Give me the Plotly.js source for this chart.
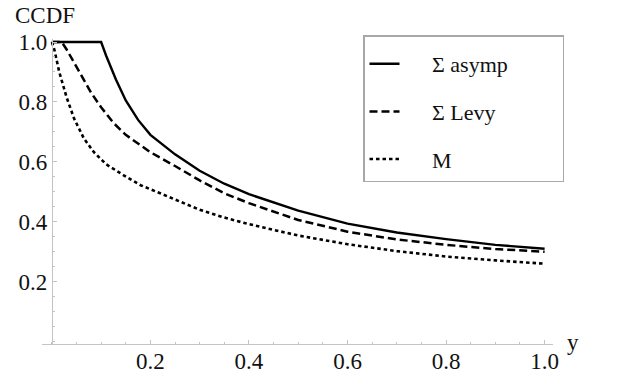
<!DOCTYPE html>
<html>
<head>
<meta charset="utf-8">
<script src="https://cdn.plot.ly/plotly-3.0.1.min.js"></script>
<style>
  html, body { margin: 0; padding: 0; background: #fff; }
  #chart { width: 623px; height: 387px; }
</style>
</head>
<body>
<div id="chart"></div>
<script>
// values
const xAsymp = [0, 0.1, 0.11, 0.12, 0.13, 0.15, 0.175, 0.2, 0.25, 0.3, 0.35, 0.4, 0.5, 0.6, 0.7, 0.8, 0.9, 1.0];
const yAsymp = [1, 1, 0.955, 0.915, 0.875, 0.805, 0.74, 0.69, 0.625, 0.57, 0.527, 0.492, 0.437, 0.394, 0.364, 0.342, 0.323, 0.31];

const xLevy = [0, 0.02, 0.03, 0.045, 0.06, 0.08, 0.1, 0.125, 0.15, 0.2, 0.25, 0.3, 0.35, 0.4, 0.5, 0.6, 0.7, 0.8, 0.9, 1.0];
const yLevy = [1, 1, 0.975, 0.93, 0.888, 0.83, 0.782, 0.73, 0.69, 0.632, 0.586, 0.538, 0.495, 0.462, 0.406, 0.367, 0.341, 0.323, 0.309, 0.3];

const xM = [0, 0.005, 0.015, 0.03, 0.045, 0.065, 0.085, 0.11, 0.145, 0.18, 0.22, 0.26, 0.3, 0.35, 0.4, 0.5, 0.6, 0.7, 0.8, 0.9, 1.0];
const yM = [1, 0.975, 0.9, 0.815, 0.745, 0.678, 0.633, 0.592, 0.556, 0.522, 0.495, 0.467, 0.44, 0.414, 0.392, 0.354, 0.325, 0.302, 0.284, 0.271, 0.26];

const seriesNames = ['\u03a3 asymp', '\u03a3 Levy', 'M'];
const xTicks = [0.2, 0.4, 0.6, 0.8, 1.0];
const xTickText = ['0.2', '0.4', '0.6', '0.8', '1.0'];
const yTicks = [0.2, 0.4, 0.6, 0.8, 1.0];
const yTickText = ['0.2', '0.4', '0.6', '0.8', '1.0'];

const serif = 'Liberation Serif';
const pad = '\u00a0'.repeat(5);
const tail = '\u00a0'.repeat(9);

const lineStyle = [
  { color: '#000', width: 2.4, dash: 'solid' },
  { color: '#000', width: 2.5, dash: '8px,4px' },
  { color: '#000', width: 2.6, dash: '3.5px,3px' }
];

const traces = [[xAsymp, yAsymp], [xLevy, yLevy], [xM, yM]].map((d, i) => ({
  x: d[0],
  y: d[1],
  type: 'scatter',
  mode: 'lines',
  line: Object.assign({ shape: 'linear' }, lineStyle[i]),
  name: pad + seriesNames[i] + tail,
  legendgroup: 'g' + i,
  hoverinfo: 'skip'
}));

const axisGray = '#c4c4c4';
const txt = { family: serif, size: 22, color: '#111' };
const tickTxt = { family: serif, size: 23, color: '#111' };

const layout = {
  width: 623,
  height: 387,
  margin: { l: 42, r: 70, t: 39, b: 43, autoexpand: false },
  paper_bgcolor: '#fff',
  plot_bgcolor: '#fff',
  font: txt,
  showlegend: true,
  legend: {
    xref: 'container', yref: 'container',
    x: 363 / 623, y: 1 - 35 / 387,
    xanchor: 'left', yanchor: 'top',
    bgcolor: '#fff',
    bordercolor: '#a8a8a8',
    borderwidth: 1.5,
    itemwidth: 30,
    tracegroupgap: 16,
    title: { text: '\u00a0', font: { family: serif, size: 5 } },
    font: txt
  },
  xaxis: {
    range: [-0.02, 1.017],
    showgrid: false,
    zeroline: false,
    showline: true,
    linecolor: axisGray,
    linewidth: 1,
    ticks: 'inside',
    ticklen: 4,
    tickcolor: axisGray,
    tickmode: 'array',
    tickvals: xTicks,
    ticktext: xTickText,
    tickfont: tickTxt,
    ticklabelstandoff: -4,
    minor: { dtick: 0.05, tick0: 0, ticks: 'inside', ticklen: 2.5, tickcolor: axisGray, showgrid: false }
  },
  yaxis: {
    range: [-0.008, 1.01],
    anchor: 'free',
    position: (51.9 - 42) / 511,
    showgrid: false,
    zeroline: false,
    showline: true,
    linecolor: axisGray,
    linewidth: 1,
    ticks: 'inside',
    ticklen: 4,
    tickcolor: axisGray,
    tickmode: 'array',
    tickvals: yTicks,
    ticktext: yTickText,
    tickfont: tickTxt,
    minor: { dtick: 0.05, tick0: 0, ticks: 'inside', ticklen: 2.5, tickcolor: axisGray, showgrid: false }
  },
  annotations: [
    {
      text: 'CCDF',
      xref: 'paper', yref: 'paper',
      x: (13 - 42) / 511, y: 1 + (39 - 1) / 305,
      xanchor: 'left', yanchor: 'top',
      showarrow: false,
      font: tickTxt
    },
    {
      text: 'y',
      xref: 'paper', yref: 'paper',
      x: 1, y: 0,
      xanchor: 'left', yanchor: 'middle',
      xshift: 12, yshift: 2,
      showarrow: false,
      font: tickTxt
    }
  ]
};

Plotly.newPlot('chart', traces, layout, { displayModeBar: false, staticPlot: true });
</script>
</body>
</html>
